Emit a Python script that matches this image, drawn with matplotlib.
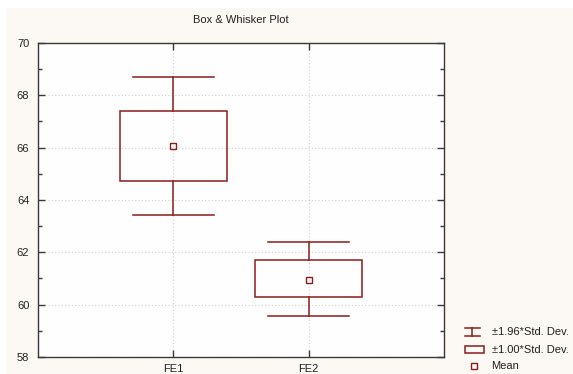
import matplotlib
matplotlib.use("Agg")
import matplotlib.pyplot as plt
from matplotlib.lines import Line2D
from matplotlib.patches import Rectangle
from matplotlib.ticker import MultipleLocator

plt.rcParams['font.family'] = ['Liberation Sans', 'DejaVu Sans']

categories = ["FE1", "FE2"]
means = [66.07, 60.96]
sd_lo = [64.73, 60.29]     # mean - 1.00*SD
sd_hi = [67.39, 61.69]     # mean + 1.00*SD
wh_lo = [63.42, 59.57]     # mean - 1.96*SD
wh_hi = [68.69, 62.39]     # mean + 1.96*SD
legend_labels = ["\u00b11.96*Std. Dev.", "\u00b11.00*Std. Dev.", "Mean"]

W, H = 573, 374
C = "#8c1c1c"
fig = plt.figure(figsize=(W/100, H/100), dpi=100)
fig.patch.set_facecolor("white")
# cream background panel
fig.add_artist(Rectangle((6/W, 0), 1 - 6/W, 1 - 8/H, transform=fig.transFigure,
                         facecolor="#fcf8f3", edgecolor="none", zorder=-10))

ax = fig.add_axes([37.7/W, 1 - 357/H, (444.3-37.7)/W, (357-42.9)/H])
ax.set_facecolor("#fefefe")
ax.set_xlim(0, 3)
ax.set_ylim(58, 70)

pos = list(range(1, len(categories)+1))
bw, cw = 0.79, 0.6
for x, m, l, h, wl, wh in zip(pos, means, sd_lo, sd_hi, wh_lo, wh_hi):
    ax.add_patch(Rectangle((x - bw/2, l), bw, h - l, facecolor="none",
                           edgecolor=C, lw=1.1, zorder=3))
    ax.plot([x, x], [h, wh], color=C, lw=1.1, zorder=3)
    ax.plot([x, x], [l, wl], color=C, lw=1.1, zorder=3)
    ax.plot([x - cw/2, x + cw/2], [wh, wh], color=C, lw=1.1, zorder=3)
    ax.plot([x - cw/2, x + cw/2], [wl, wl], color=C, lw=1.1, zorder=3)
ax.plot(pos, means, linestyle="none", marker="s", markersize=4.6,
        markerfacecolor="none", markeredgecolor=C, markeredgewidth=1.0, zorder=4)

ax.set_xticks(pos)
ax.set_xticklabels(categories)
ax.yaxis.set_major_locator(MultipleLocator(2))
ax.yaxis.set_minor_locator(MultipleLocator(1))
ax.grid(True, which="major", color="#d2d2d2", linestyle=(0, (1, 2)), lw=0.8)
ax.set_axisbelow(True)
for s in ax.spines.values():
    s.set_color("#3a3a3a")
    s.set_linewidth(1.0)
ax.tick_params(axis="both", which="major", direction="in", length=5, width=1,
               color="#3a3a3a", labelsize=8, labelcolor="#222222",
               top=True, right=True, pad=5)
ax.tick_params(axis="y", which="minor", direction="in", length=3, width=1,
               color="#3a3a3a", left=True, right=True)
ax.tick_params(axis="y", which="major", pad=6)

fig.text(241/W, 1 - 20/H, "Box & Whisker Plot", ha="center", va="center",
         fontsize=8, color="#222222")

# legend (manual, in figure pixels)
def L(xs, ys, **kw):
    fig.add_artist(Line2D([x/W for x in xs], [1 - y/H for y in ys],
                          transform=fig.transFigure, color=C, lw=1.1, **kw))
L([465, 479.5], [327.7, 327.7]); L([465, 479.5], [336, 336]); L([472.2, 472.2], [327.7, 336])
fig.add_artist(Rectangle((465/W, 1 - 353.3/H), 19.3/W, 7.3/H, transform=fig.transFigure,
                         facecolor="none", edgecolor=C, lw=1.1))
L([474.3], [366.3], marker="s", markersize=4, markerfacecolor="none",
  markeredgecolor=C, markeredgewidth=1.0, linestyle="none")
for lab, y in zip(legend_labels, [332, 350, 366.3]):
    fig.text(491.5/W, 1 - y/H, lab, ha="left", va="center", fontsize=8, color="#222222")

fig.savefig("out.png", dpi=100, facecolor=fig.get_facecolor())
